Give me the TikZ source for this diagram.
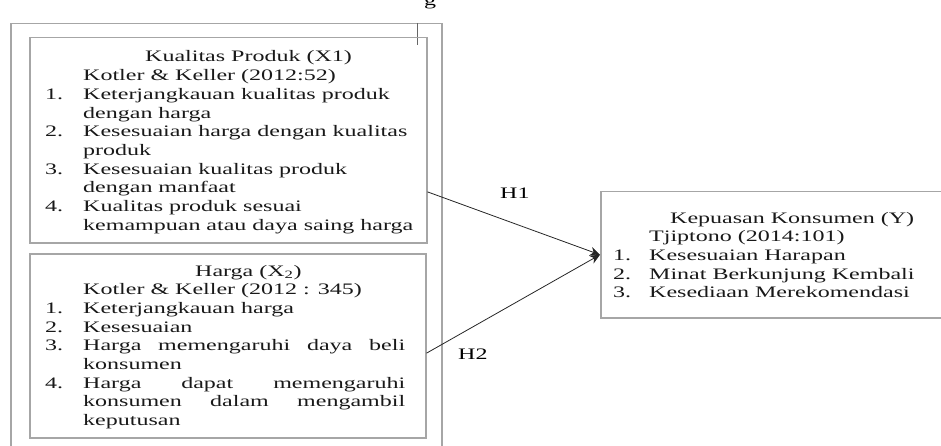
\documentclass[tikz,border=0pt]{standalone}
\usepackage{fontspec}
\setmainfont[FakeStretch=1.5]{Liberation Serif}
\usetikzlibrary{arrows.meta,calc}
\tikzset{
  frame/.style={draw=black!35, line width=1.5pt, inner sep=0pt},
  txt/.style={anchor=base west, inner sep=0pt, font=\fontsize{16}{18.7}\selectfont, text=black!90},
  link/.style={draw=black!85, line width=0.8pt, -{Stealth[length=10pt,width=9pt]}},
  lbl/.style={anchor=base west, inner sep=0pt, font=\fontsize{16}{18.7}\selectfont}
}
\begin{document}
\begin{tikzpicture}[x=1pt,y=-1pt]
\useasboundingbox (0,0) rectangle (941,446);
\clip (0,0) rectangle (941,446);
% outer frame and cropped marks
\node[frame, anchor=north west, minimum width=431pt, minimum height=450pt] (outer) at (10,23) {};
\coordinate (tickTop) at (417,23);
\coordinate (tickBot) at (417,45);
\draw[black!60, line width=1pt] (tickTop) -- (tickBot);
\node[lbl] (gcut) at (424,6) {g};
% boxes
\node[frame, anchor=north west, minimum width=397pt, minimum height=205pt] (x1) at (29,37) {};
\node[frame, anchor=north west, minimum width=396pt, minimum height=184pt] (x2) at (29,253) {};
\node[frame, anchor=north west, minimum width=380pt, minimum height=126pt] (y) at (600,191) {};
% texts
\node[txt] (t1) at (45,62) {\begin{tabular}[t]{@{}p{38pt}@{}l@{}}
\multicolumn{2}{@{}l@{}}{\hspace{100pt}Kualitas Produk (X1)}\\
 & Kotler \& Keller (2012:52)\\
1. & Keterjangkauan kualitas produk\\
 & dengan harga\\
2. & Kesesuaian harga dengan kualitas\\
 & produk\\
3. & Kesesuaian kualitas produk\\
 & dengan manfaat\\
4. & Kualitas produk sesuai\\
 & kemampuan atau daya saing harga
\end{tabular}};
\node[txt] (t2) at (45,276) {\begin{tabular}[t]{@{}p{38pt}@{}l@{}}
\multicolumn{2}{@{}l@{}}{\hspace{150pt}Harga (X\textsubscript{2})}\\
 & Kotler \& Keller (2012 : 345)\\
1. & Keterjangkauan harga\\
2. & Kesesuaian\\
3. & \makebox[322pt][s]{Harga memengaruhi daya beli}\\
 & konsumen\\
4. & \makebox[322pt][s]{Harga dapat memengaruhi}\\
 & \makebox[322pt][s]{konsumen dalam mengambil}\\
 & keputusan
\end{tabular}};
\node[txt] (t3) at (613,223) {\begin{tabular}[t]{@{}p{36pt}@{}l@{}}
\multicolumn{2}{@{}l@{}}{\hspace{57pt}Kepuasan Konsumen (Y)}\\
 & Tjiptono (2014:101)\\
1. & Kesesuaian Harapan\\
2. & Minat Berkunjung Kembali\\
3. & Kesediaan Merekomendasi
\end{tabular}};
% connectors
\coordinate (s1) at ($(x1.north east)!0.75!(x1.south east)$);
\coordinate (s2) at ($(x2.north east)!0.54!(x2.south east)$);
\draw[link] (s1) -- (y.west);
\draw[link] (s2) -- (y.west);
\node[lbl] (h1) at (500,199) {H1};
\node[lbl] (h2) at (458,359) {H2};
\end{tikzpicture}
\end{document}
